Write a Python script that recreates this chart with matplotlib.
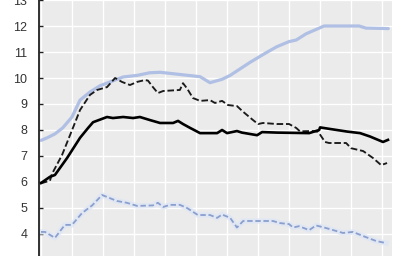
import matplotlib
matplotlib.use("Agg")
import matplotlib.pyplot as plt

# Series A: light blue solid
a_x = [0, 2, 4.5, 7, 10, 12.6, 15.8, 19, 22.3, 26.5, 31, 35, 38.4, 46, 51.3, 54.5, 58.4, 61,
       67.4, 72.3, 76, 80, 82.3, 85.5, 91.3, 102.6, 104.8, 112]
a_y = [7.6, 7.7, 7.85, 8.08, 8.5, 9.15, 9.46, 9.7, 9.85, 10.04, 10.1, 10.2, 10.22, 10.12, 10.05,
       9.82, 9.95, 10.1, 10.6, 10.95, 11.2, 11.4, 11.46, 11.7, 12.0, 12.0, 11.92, 11.9]

# Series B: black dashed
b_x = [0, 2.9, 3.5, 6.8, 10.3, 12.6, 15.8, 18.1, 21.3, 23.9, 26.1, 28.7, 31, 33.5, 34.5, 36.1,
       37.7, 39.4, 44.8, 45.8, 47.1, 49, 51.3, 54.5, 56.1, 58.4, 60.3, 63.2, 65.2, 68.4, 70,
       71.6, 76.1, 80, 82.3, 83.5, 87.7, 89.4, 91.6, 92.9, 98.4, 100, 103.9, 107.1, 109.7, 111.6]
b_y = [5.95, 6.05, 6.3, 7.04, 8.08, 8.77, 9.35, 9.54, 9.65, 10.0, 9.85, 9.73, 9.85, 9.92, 9.9,
       9.65, 9.42, 9.5, 9.54, 9.8, 9.6, 9.23, 9.12, 9.15, 9.04, 9.12, 8.96, 8.92, 8.7, 8.38,
       8.23, 8.27, 8.23, 8.23, 8.08, 7.95, 7.96, 7.93, 7.54, 7.5, 7.5, 7.3, 7.19, 6.92, 6.65, 6.73]

# Series C: black solid
c_x = [0, 2.9, 4.5, 8.4, 12.6, 15.2, 16.8, 21.3, 23.2, 26.5, 29.7, 31.9, 35.2, 38.4, 42.6,
       44.2, 45.8, 48.1, 51.3, 56.8, 58.4, 60, 63.2, 64.8, 69.7, 71.3, 76.1, 86.5, 89.7, 90,
       93.2, 98.7, 102.9, 106.1, 110.3, 111.9]
c_y = [5.96, 6.2, 6.27, 6.92, 7.7, 8.08, 8.3, 8.5, 8.46, 8.5, 8.46, 8.5, 8.38, 8.27, 8.27,
       8.35, 8.23, 8.08, 7.88, 7.88, 8.0, 7.88, 7.96, 7.9, 7.8, 7.92, 7.9, 7.88, 8.0, 8.1,
       8.04, 7.94, 7.88, 7.75, 7.54, 7.62]

# Series D: light blue dashed
d_x = [0, 1.3, 4.5, 7.7, 10, 13.2, 16.5, 19.7, 24.5, 27.7, 31, 36.1, 37.7, 39.4, 41.6, 44.8,
       47.1, 50.6, 54.5, 56.8, 58.4, 61, 63.2, 65.2, 74.8, 77.1, 80, 81.3, 83.2, 86.5, 88.7,
       91.9, 97.4, 100.6, 103.9, 108.1, 111.3]
d_y = [4.08, 4.08, 3.85, 4.35, 4.35, 4.8, 5.1, 5.5, 5.27, 5.2, 5.08, 5.1, 5.2, 5.04, 5.12, 5.12,
       5.0, 4.73, 4.73, 4.62, 4.75, 4.62, 4.25, 4.5, 4.5, 4.42, 4.38, 4.25, 4.3, 4.15, 4.33,
       4.23, 4.04, 4.08, 3.92, 3.73, 3.65]

x_ticks = list(range(0, 111, 10))
y_ticks = list(range(4, 14))

fig = plt.figure(figsize=(4.16, 2.56), dpi=100)
ax = fig.add_axes([38.5 / 416, -4 / 256, (392 - 38.5) / 416, 270.4 / 256])
ax.set_facecolor("#ebebeb")
ax.set_xlim(-0.8, 113.2)
ax.set_ylim(3, 13.4)

ax.set_xticks(x_ticks)
ax.set_yticks(y_ticks)
ax.grid(True, color="white", lw=1.0)
ax.axhline(3, color="white", lw=1.0, zorder=0.5)
ax.set_axisbelow(True)

ax.plot(a_x, a_y, color="#b0bfe4", lw=2.3, solid_capstyle="round")
ax.plot(d_x, d_y, color="#dfe7f5", lw=4.0, alpha=0.8)
ax.plot(d_x, d_y, color="#8a9fce", lw=1.3, dashes=(3, 1.5))
ax.plot(b_x, b_y, color="#1a1a1a", lw=1.35, dashes=(3.5, 1.5))
ax.plot(c_x, c_y, color="#000000", lw=1.9)

for s in ["top", "right", "bottom"]:
    ax.spines[s].set_visible(False)
ax.spines["left"].set_color("#222222")
ax.spines["left"].set_linewidth(1.3)

ax.tick_params(axis="y", direction="in", length=3, width=1, color="#222222",
               labelsize=9, labelcolor="#333333", pad=8)
ax.tick_params(axis="x", direction="in", length=3, width=0.8, color="#555555",
               labelbottom=False)
for lab in ax.get_yticklabels():
    lab.set_family(["Liberation Sans", "DejaVu Sans"])

fig.savefig("out.png", dpi=100)
